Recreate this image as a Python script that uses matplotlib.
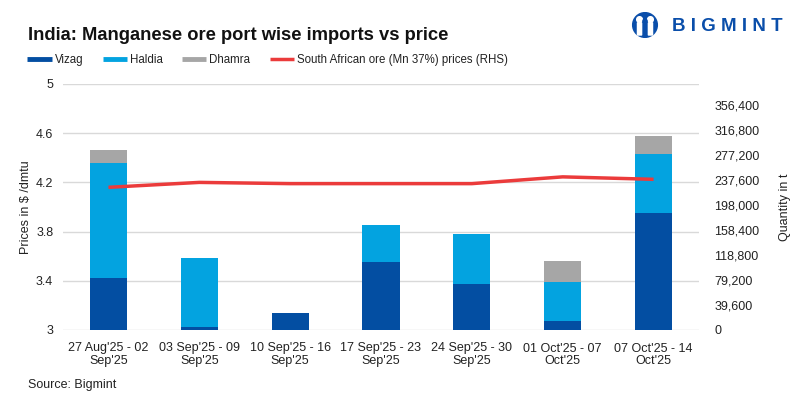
import matplotlib
matplotlib.use('Agg')
import matplotlib.pyplot as plt
from matplotlib.lines import Line2D
from matplotlib.patches import Circle, FancyBboxPatch
from matplotlib.ticker import FuncFormatter, FixedLocator
import numpy as np

plt.rcParams['font.family'] = ['Liberation Sans', 'DejaVu Sans']

# weekly periods
weeks = ["27 Aug'25 - 02\nSep'25", "03 Sep'25 - 09\nSep'25", "10 Sep'25 - 16\nSep'25",
         "17 Sep'25 - 23\nSep'25", "24 Sep'25 - 30\nSep'25", "01 Oct'25 - 07\nOct'25",
         "07 Oct'25 - 14\nOct'25"]

# imports by port, tonnes
vizag = [83200, 5500, 27700, 108500, 73700, 15000, 186100]
haldia = [182200, 109300, 0, 58600, 79200, 61800, 93500]
dhamra = [20600, 0, 0, 0, 0, 33300, 28500]

# South African ore (Mn 37%) price, $/dmtu
price = [4.16, 4.20, 4.19, 4.19, 4.19, 4.245, 4.225]

c_vizag = '#034EA2'
c_haldia = '#03A3E0'
c_dhamra = '#A6A6A6'
c_price = '#EB3B3B'
c_grid = '#D9D9D9'
c_text = '#222222'

fig = plt.figure(figsize=(7.99, 3.96), dpi=100)
ax = fig.add_axes([63 / 799, 1 - 330 / 396, (699 - 63) / 799, (330 - 84) / 396])
ax2 = ax.twinx()

x = np.arange(len(weeks))
w = 0.41

# left axis: prices + grid
ax.set_ylim(3, 5)
ax.set_yticks([3, 3.4, 3.8, 4.2, 4.6, 5])
ax.yaxis.set_major_formatter(FuncFormatter(lambda v, p: '%g' % v))
ax.grid(axis='y', color=c_grid, lw=1)
ax.set_axisbelow(True)
ax.set_xlim(-0.5, len(weeks) - 0.5)
ax.set_xticks(x)
ax.set_xticklabels(weeks, fontsize=9, color=c_text, linespacing=1.1)
ax.tick_params(axis='both', length=0, labelsize=9, labelcolor=c_text)
ax.tick_params(axis='y', pad=7)
ax.tick_params(axis='x', pad=9)
ax.set_ylabel('Prices in $ /dmtu', fontsize=9, color=c_text, labelpad=3)

# right axis: stacked bars
b1 = np.array(vizag)
b2 = np.array(haldia)
b3 = np.array(dhamra)
ax2.bar(x, b1, w, color=c_vizag)
ax2.bar(x, b2, w, bottom=b1, color=c_haldia)
ax2.bar(x, b3, w, bottom=b1 + b2, color=c_dhamra)
# price line drawn on top of bars, in left-axis coordinates
ax2.plot(x, price, color=c_price, lw=2.5, transform=ax.transData, solid_capstyle='butt')
ax2.set_ylim(0, 390300)
ax2.yaxis.set_major_locator(FixedLocator(np.arange(0, 356401, 39600)))
ax2.yaxis.set_major_formatter(FuncFormatter(lambda v, p: '{:,.0f}'.format(v)))
ax2.tick_params(axis='y', length=0, labelsize=9, labelcolor=c_text, pad=11)
ax2.set_ylabel('Quantity in t', fontsize=9, color=c_text, labelpad=14)
ax2.set_xlim(-0.5, len(weeks) - 0.5)

for a in (ax, ax2):
    for s in a.spines.values():
        s.set_visible(False)

# title, legend, source
fig.text(28 / 799, 1 - 40 / 396, 'India: Manganese ore port wise imports vs price',
         fontsize=13.2, fontweight='bold', color='#111111', va='baseline')

handles = [Line2D([], [], color=c_vizag, lw=3.5, solid_capstyle='butt'),
           Line2D([], [], color=c_haldia, lw=3.5, solid_capstyle='butt'),
           Line2D([], [], color=c_dhamra, lw=3.5, solid_capstyle='butt'),
           Line2D([], [], color=c_price, lw=2.5, solid_capstyle='butt')]
labels = ['Vizag', 'Haldia', 'Dhamra', 'South African ore (Mn 37%) prices (RHS)']
fig.legend(handles, labels, loc='center left', bbox_to_anchor=(17 / 799, 1 - 60 / 396),
           ncol=4, frameon=False, fontsize=8.3, handlelength=2.1, handletextpad=0.25,
           columnspacing=1.7, labelcolor=c_text)

fig.text(28 / 799, 1 - 388 / 396, 'Source: Bigmint', fontsize=9, color=c_text)

# logo
fig.text(672 / 799, 1 - 31 / 396, 'B I G M I N T', fontsize=13.5, fontweight='bold',
         color='#0A4EAA', va='baseline')
lax = fig.add_axes([628 / 799, 1 - 38 / 396, 34 / 799, 26 / 396])
lax.set_xlim(-1.3, 1.3)
lax.set_ylim(-1.0, 1.0)
lax.set_aspect('equal')
lax.axis('off')
lax.add_patch(Circle((0, 0), 0.95, color='#0A4EAA'))
for hx in (-0.42, 0.42):
    lax.add_patch(Circle((hx, 0.42), 0.22, color='white'))
    lax.add_patch(FancyBboxPatch((hx - 0.14, -0.75), 0.28, 0.9,
                                 boxstyle='round,pad=0.02', color='white'))
lax.add_patch(Circle((0, 0.3), 0.16, color='#0A4EAA'))

fig.savefig('out.png', dpi=100)
